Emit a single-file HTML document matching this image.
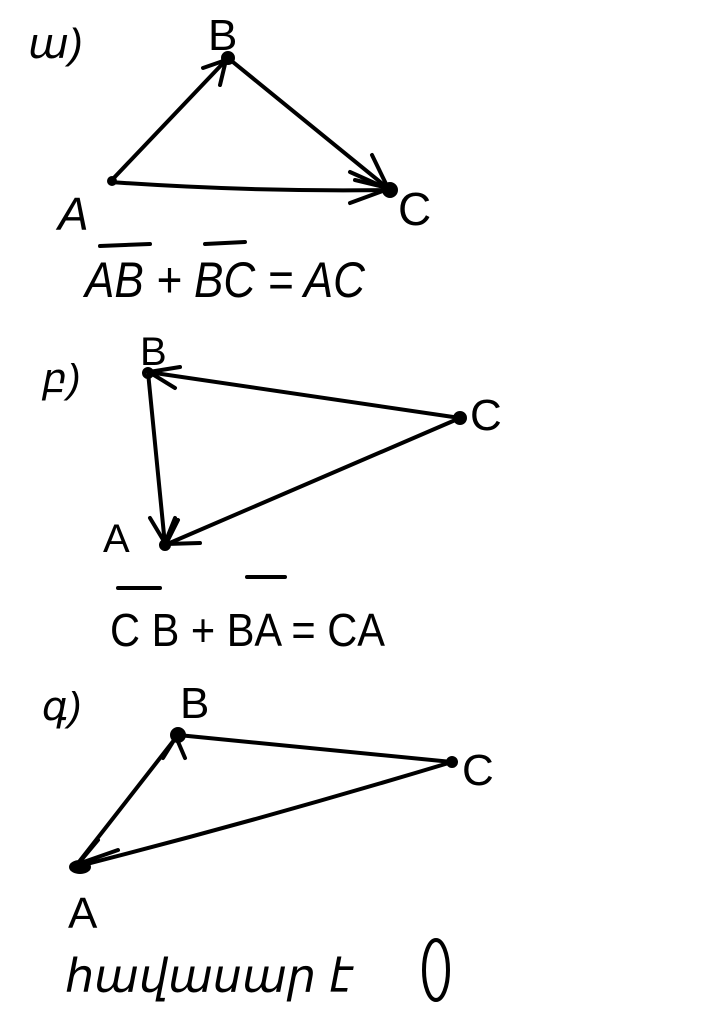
<!DOCTYPE html>
<html><head><meta charset="utf-8"><style>
html,body{margin:0;padding:0;background:#fff;width:704px;height:1024px;overflow:hidden}
svg text{font-family:"Liberation Sans","DejaVu Sans",sans-serif;fill:#000}
</style></head><body>
<svg width="704" height="1024" viewBox="0 0 704 1024" xmlns="http://www.w3.org/2000/svg">
<g stroke="#000" stroke-width="4" fill="none" stroke-linecap="round" stroke-linejoin="round">
<path d="M110 182 L228 58"/>
<path d="M203 68 L226 60 L220 85"/>
<path d="M228 58 L390 190"/>
<path d="M372 155 L388 188 L355 180"/>
<path d="M110 182 Q250 192 390 190"/>
<path d="M350 172 L388 189 L350 203"/>
<circle cx="228" cy="58" r="5" fill="#000"/>
<circle cx="390" cy="190" r="6" fill="#000"/>
<circle cx="112" cy="181" r="3" fill="#000"/>
<path d="M100 246 L150 244"/>
<path d="M205 244 L245 242"/>
<path d="M460 418 L148 372"/>
<path d="M180 367 L149 372 L175 388"/>
<path d="M148 372 L165 545"/>
<path d="M150 518 L165 543 L175 518"/>
<path d="M460 418 L165 545"/>
<path d="M178 520 L166 544 L200 543"/>
<circle cx="148" cy="373" r="4"/>
<circle cx="460" cy="418" r="5" fill="#000"/>
<circle cx="165" cy="545" r="4" fill="#000"/>
<path d="M118 588 L160 588"/>
<path d="M247 577 L285 577"/>
<path d="M178 735 L452 762"/>
<path d="M452 762 Q260 820 75 867"/>
<path d="M178 735 L75 867"/>
<path d="M163 758 L176 737 L185 758"/>
<path d="M98 840 L78 864 L118 850"/>
<circle cx="178" cy="735" r="6" fill="#000"/>
<circle cx="452" cy="762" r="4" fill="#000"/>
<ellipse cx="80" cy="867" rx="9" ry="5" fill="#000"/>
<ellipse cx="436" cy="970" rx="12" ry="30"/>
</g>
<text x="28" y="58" font-size="42" font-style="italic">ա)</text>
<text x="208" y="50" font-size="44">B</text>
<text x="58" y="230" font-size="46" font-style="italic">A</text>
<text x="398" y="225" font-size="46">C</text>
<text x="85" y="297" font-size="50" font-style="italic" textLength="280" lengthAdjust="spacingAndGlyphs">AB + BC = AC</text>
<text x="42" y="392" font-size="40" font-style="italic">բ)</text>
<text x="140" y="365" font-size="40">B</text>
<text x="103" y="552" font-size="40">A</text>
<text x="470" y="430" font-size="44">C</text>
<text x="110" y="646" font-size="46" textLength="275" lengthAdjust="spacingAndGlyphs">C B + BA = CA</text>
<text x="42" y="720" font-size="40" font-style="italic">գ)</text>
<text x="180" y="718" font-size="44">B</text>
<text x="462" y="785" font-size="44">C</text>
<text x="68" y="928" font-size="44">A</text>
<text x="65" y="992" font-size="46" font-style="italic">հավասար է</text>
</svg>
</body></html>
